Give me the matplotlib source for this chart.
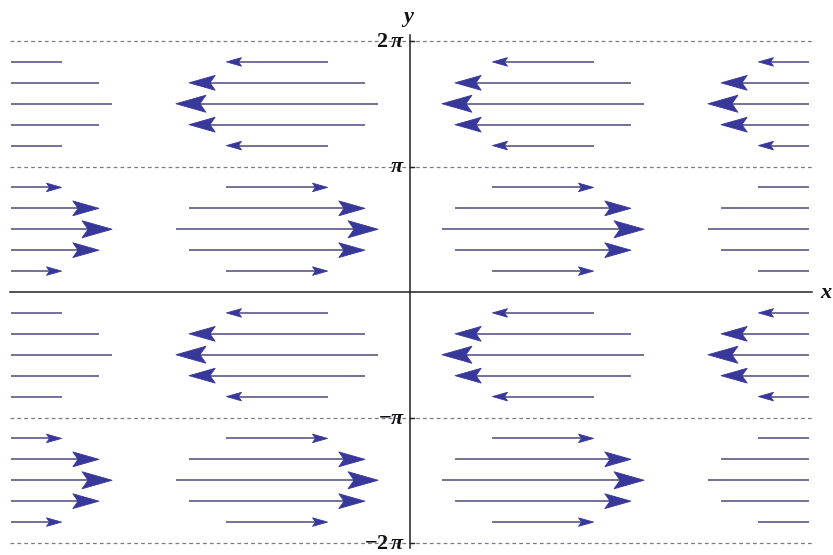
import numpy as np
import matplotlib
matplotlib.use("Agg")
import matplotlib.pyplot as plt
from matplotlib.patches import Polygon
from matplotlib.collections import LineCollection, PatchCollection

plt.rcParams['mathtext.fontset'] = 'custom'
plt.rcParams['mathtext.rm'] = 'Liberation Serif:bold'
plt.rcParams['mathtext.it'] = 'Liberation Serif:italic:bold'
plt.rcParams['mathtext.bf'] = 'Liberation Serif:bold'

# ---- data (vector field: horizontal component only) ----
x_points = [-3.0, -1.0, 1.0, 3.0]
y_steps = list(range(-12, 13))          # rows at k*pi/6
u_values = [0.0, 0.5, 0.87, 1.0, 0.87, 0.5,
            0.0, -0.5, -0.87, -1.0, -0.87, -0.5,
            0.0, 0.5, 0.87, 1.0, 0.87, 0.5,
            0.0, -0.5, -0.87, -1.0, -0.87, -0.5,
            0.0]
dashed_levels = [-2, -1, 1, 2]           # multiples of pi
tick_levels = [2, 1, -1, -2]
tick_texts = [r'$\mathrm{2}\,\pi$', r'$\pi$', r'$\mathrm{-}\pi$', r'$\mathrm{-2}\,\pi$']
x_lo, x_hi = -3.0, 3.0                   # plot range in x

W, H = 833, 555
fig = plt.figure(figsize=(W / 100, H / 100), dpi=100)
ax = fig.add_axes([0, 0, 1, 1])
px_x = 133.0                 # pixels per x unit
px_pi = 125.5                # pixels per pi
x0_px, y0_px = 410.0, 292.0
ax.set_xlim(-x0_px / px_x, (W - x0_px) / px_x)
ax.set_ylim(-(H - y0_px) / px_pi * np.pi, y0_px / px_pi * np.pi)
ax.axis('off')
py = px_pi / np.pi           # pixels per y unit

# dashed lines
xl, xr = (10 - x0_px) / px_x, (812 - x0_px) / px_x
for k in dashed_levels:
    ax.plot([xl, xr], [k * np.pi, k * np.pi], ls=(0, (3, 2.5)), color='#7a7a8a', lw=0.9, zorder=1)

# axes lines
ax.plot([xl, xr], [0, 0], color='#222222', lw=1.1, zorder=2)
ax.plot([0, 0], [-2.04 * np.pi, 2.05 * np.pi], color='#222222', lw=1.1, zorder=2)
for k, t in zip(tick_levels, tick_texts):
    ax.plot([0, 4 / px_x], [k * np.pi, k * np.pi], color='#222222', lw=1.0, zorder=2)
    ax.text(-5 / px_x, k * np.pi, t, ha='right', va='center', fontsize=16, color='#111111', zorder=3)
ax.text(-2 / px_x, 2 * np.pi + 22 / py, r'$y$', ha='center', va='center', fontsize=16, color='#111111')
ax.text(xr + 14 / px_x, 0, r'$x$', ha='center', va='center', fontsize=16, color='#111111')

# arrows
scale = 1.52               # x units for unit magnitude
head_len_px, head_w_px, notch_px = 30.0, 8.5, 6.0
segs, heads = [], []
for k, u in zip(y_steps, u_values):
    if u == 0:
        continue
    y = k * np.pi / 6
    m = abs(u)
    d = np.sign(u)
    for x in x_points:
        tail = x - u * scale / 2
        tip = x + u * scale / 2
        L = head_len_px * m / px_x
        hw = head_w_px * m / py
        nt = notch_px * m / px_x
        base = tip - d * (L - nt)
        a, b = np.clip([tail, base], x_lo, x_hi)
        if a != b:
            segs.append([(a, y), (b, y)])
        if x_lo <= tip <= x_hi:
            heads.append(Polygon([(tip, y), (tip - d * L, y + hw), (base, y), (tip - d * L, y - hw)], closed=True))
lc = LineCollection(segs, colors='#727299', linewidths=1.4, zorder=4)
ax.add_collection(lc)
pc = PatchCollection(heads, facecolor='#38389a', edgecolor='#38389a', linewidth=0.6, zorder=5)
ax.add_collection(pc)

fig.savefig('out.png', dpi=100)
